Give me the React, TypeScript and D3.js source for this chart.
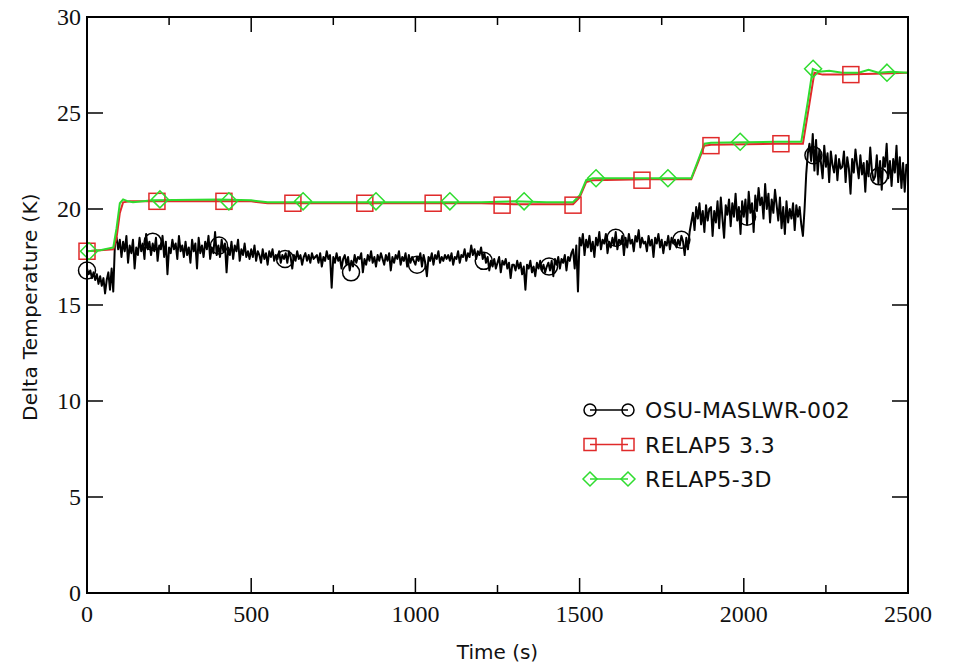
import React, { useRef, useEffect } from 'react';
import * as d3 from 'd3';

// experimental trace, one value every 5 s from 0 to 2500 s
const expStep = 5;
const expValues = [
  16.9,16.6,16.8,16.4,16.7,16.3,16.6,16.1,16.5,16.0,16.4,15.6,16.3,16.7,15.8,16.9,15.7,18.2,18.5,17.9,
  18.4,17.5,18.3,17.8,18.6,17.2,18.1,17.7,18.4,16.9,18.0,17.6,18.5,17.8,18.2,17.4,18.7,17.9,18.3,17.6,
  18.2,17.8,18.5,17.3,18.1,17.9,18.6,17.5,18.3,16.6,18.0,17.7,18.4,17.9,18.2,17.4,18.6,17.8,18.1,17.5,
  18.3,17.6,18.0,17.2,18.4,17.8,18.2,16.9,18.5,17.7,18.1,17.5,18.3,17.9,18.6,17.4,18.0,17.7,18.8,17.6,
  18.1,17.5,18.4,17.8,18.2,16.7,18.0,17.6,18.3,17.4,18.1,17.8,18.4,17.3,17.9,17.6,18.2,17.5,17.8,17.4,
  17.9,17.5,18.1,17.3,17.8,17.6,17.2,17.9,17.4,17.7,17.1,17.8,17.5,17.9,17.3,17.6,17.4,17.8,17.2,17.6,
  17.4,17.7,17.2,17.8,17.5,16.9,17.6,17.3,17.8,17.4,17.6,17.1,17.5,17.7,17.3,17.6,17.2,17.7,17.4,17.5,
  17.6,17.2,17.7,17.0,17.5,17.3,17.8,17.4,17.6,15.9,17.5,17.2,17.7,17.3,17.5,16.9,17.4,17.6,17.1,17.5,
  16.8,17.3,17.0,17.6,17.2,17.5,17.4,17.7,16.7,17.4,17.1,17.6,17.3,17.8,17.2,17.5,17.0,17.6,17.3,17.7,
  17.4,17.1,17.6,17.3,17.7,16.8,17.5,17.2,17.6,17.4,17.8,17.1,17.5,17.3,17.7,17.0,17.6,17.2,17.5,17.3,
  17.1,17.5,17.3,17.7,17.0,17.6,17.2,16.5,17.5,17.3,17.7,17.1,17.6,17.4,17.8,17.2,17.5,17.3,17.6,17.4,
  17.6,17.3,17.7,17.1,17.5,17.4,17.8,17.2,17.6,17.5,17.9,17.3,17.7,17.5,18.1,17.6,17.9,17.4,17.8,17.6,
  18.0,17.4,17.7,17.2,17.5,16.8,17.3,17.0,17.4,16.9,17.2,17.5,16.7,17.3,17.1,17.4,16.9,17.2,16.4,17.1,
  17.1,16.8,17.3,16.9,17.2,16.6,17.0,15.8,17.1,16.9,17.3,16.7,17.0,16.5,17.2,16.9,17.3,16.8,17.1,16.7,
  17.0,17.2,16.8,17.3,16.5,17.4,17.1,17.5,16.9,17.4,17.2,17.6,16.8,17.5,17.3,17.7,17.9,16.9,18.1,15.7,
  18.5,18.1,18.7,17.6,18.4,18.0,18.6,17.8,18.3,17.5,18.5,18.1,18.8,17.9,18.4,18.2,18.7,17.7,18.3,18.0,
  18.5,18.1,18.8,17.9,18.4,18.2,18.6,17.6,18.5,18.0,18.7,18.2,18.4,17.8,18.6,18.3,18.9,18.0,18.5,18.2,
  18.3,17.8,18.6,18.1,18.4,17.5,18.5,18.2,18.7,18.0,18.4,17.7,18.3,18.1,18.6,17.9,18.5,18.2,18.4,18.0,
  18.4,18.1,18.6,18.3,17.6,18.5,17.9,18.8,19.3,19.8,18.9,20.1,19.5,20.3,19.2,19.9,18.8,20.2,19.4,20.0,
  20.1,18.6,19.9,19.3,20.4,19.0,20.6,19.5,18.5,20.2,19.7,20.5,19.1,20.3,19.6,20.8,19.4,20.1,18.7,20.4,
  19.6,20.5,19.2,20.9,19.8,20.3,18.8,20.7,19.9,21.1,20.2,20.6,19.5,21.3,20.0,20.8,19.3,20.5,19.8,21.0,
  20.2,19.4,20.6,19.0,20.1,18.7,20.4,19.3,20.0,19.5,20.3,18.9,20.2,19.6,20.1,19.2,18.6,20.0,21.8,22.9,
  23.4,22.5,23.9,22.0,23.6,21.8,23.1,22.4,21.6,23.3,22.2,22.9,21.4,23.0,22.3,21.9,22.8,21.5,22.6,22.1,
  22.2,23.0,21.4,22.7,22.1,20.8,22.6,21.9,23.1,22.3,21.6,22.8,21.8,22.4,20.9,22.5,21.7,23.2,22.0,21.5,
  21.7,22.8,21.3,22.5,21.0,22.7,22.2,23.4,21.6,22.5,21.2,22.6,21.9,23.3,21.4,22.7,21.1,22.4,20.9,22.3,
  22.0
];

const relap33: [number, number][] = [
  [0,17.8],[40,17.85],[80,17.9],[90,18.5],[100,19.8],[110,20.35],[130,20.4],[200,20.4],[400,20.4],
  [500,20.4],[550,20.3],[600,20.3],[1000,20.3],[1200,20.3],[1300,20.25],[1480,20.25],[1500,20.6],
  [1520,21.4],[1540,21.5],[1700,21.55],[1840,21.55],[1860,22.4],[1880,23.3],[1900,23.35],[2100,23.4],
  [2180,23.4],[2200,25.5],[2215,27.1],[2240,27.0],[2300,27.0],[2400,27.05],[2500,27.1]
];

const relap3d: [number, number][] = [
  [0,17.8],[40,17.85],[80,18.0],[90,19.0],[100,20.3],[110,20.5],[125,20.4],[140,20.35],[200,20.45],
  [400,20.5],[500,20.45],[550,20.35],[600,20.35],[1000,20.35],[1200,20.35],[1300,20.4],[1400,20.35],
  [1480,20.35],[1500,20.7],[1520,21.5],[1540,21.6],[1700,21.6],[1840,21.6],[1860,22.5],[1880,23.4],
  [1900,23.45],[2100,23.5],[2175,23.5],[2195,25.6],[2210,27.3],[2230,27.15],[2260,27.2],[2300,27.1],
  [2350,27.1],[2380,27.25],[2410,27.1],[2450,27.15],[2500,27.1]
];

const expMarks: [number, number][] = [
  [0,16.8],[200,18.3],[402,18.1],[603,17.4],[804,16.7],[1005,17.1],[1208,17.3],[1407,17.0],
  [1610,18.5],[1810,18.4],[2010,19.6],[2212,22.8],[2412,21.7]
];
const relap33Marks: [number, number][] = [
  [0,17.8],[213,20.4],[417,20.4],[627,20.3],[846,20.3],[1054,20.3],[1264,20.2],[1480,20.2],
  [1690,21.5],[1900,23.3],[2113,23.4],[2326,27.0]
];
const relap3dMarks: [number, number][] = [
  [6,17.8],[222,20.5],[432,20.4],[658,20.4],[880,20.4],[1105,20.4],[1331,20.4],[1550,21.6],
  [1769,21.6],[1989,23.5],[2211,27.3],[2436,27.1]
];

const legendNames = ['OSU-MASLWR-002', 'RELAP5 3.3', 'RELAP5-3D'];
const xTicks = [0, 500, 1000, 1500, 2000, 2500];
const yTicks = [0, 5, 10, 15, 20, 25, 30];

const RED = '#e02a2a';
const GREEN = '#2fdc2f';

const drawMarker = (g: any, kind: string, x: number, y: number, s: number, color: string) => {
  if (kind === 'circle') {
    g.append('circle').attr('cx', x).attr('cy', y).attr('r', s / 2)
      .attr('fill', 'none').attr('stroke', color).attr('stroke-width', 1.5);
  } else if (kind === 'square') {
    g.append('rect').attr('x', x - s / 2).attr('y', y - s / 2).attr('width', s).attr('height', s)
      .attr('fill', 'none').attr('stroke', color).attr('stroke-width', 1.5);
  } else {
    const h = s / 2 + 1;
    g.append('path').attr('d', `M${x},${y - h}L${x + h},${y}L${x},${y + h}L${x - h},${y}Z`)
      .attr('fill', 'none').attr('stroke', color).attr('stroke-width', 1.5);
  }
};

const Chart = () => {
  const canvas = useRef<HTMLDivElement>(null);

  useEffect(() => {
    const width = 959;
    const height = 665;
    const left = 87, right = 908, top = 17, bottom = 593;

    d3.select(canvas.current).selectAll('*').remove();
    const svg = d3.select(canvas.current).append('svg')
      .attr('width', width).attr('height', height)
      .style('position', 'absolute').style('left', 0).style('top', 0)
      .style('background', '#fff');

    const x = d3.scaleLinear().domain([0, 2500]).range([left, right]);
    const y = d3.scaleLinear().domain([0, 30]).range([bottom, top]);

    const expData: [number, number][] = expValues.map((v, i) => [i * expStep, v]);
    const line = d3.line<[number, number]>().x(d => x(d[0])).y(d => y(d[1]));

    const plot = svg.append('g');
    plot.append('path').attr('d', line(expData)).attr('fill', 'none')
      .attr('stroke', '#000').attr('stroke-width', 2).attr('stroke-linejoin', 'round');
    plot.append('path').attr('d', line(relap33)).attr('fill', 'none')
      .attr('stroke', RED).attr('stroke-width', 2);
    plot.append('path').attr('d', line(relap3d)).attr('fill', 'none')
      .attr('stroke', GREEN).attr('stroke-width', 2);

    expMarks.forEach(d => drawMarker(plot, 'circle', x(d[0]), y(d[1]), 17, '#000'));
    relap33Marks.forEach(d => drawMarker(plot, 'square', x(d[0]), y(d[1]), 16, RED));
    relap3dMarks.forEach(d => drawMarker(plot, 'diamond', x(d[0]), y(d[1]), 15, GREEN));

    // frame and inward ticks
    const frame = svg.append('g');
    frame.append('rect').attr('x', left).attr('y', top).attr('width', right - left).attr('height', bottom - top)
      .attr('fill', 'none').attr('stroke', '#000').attr('stroke-width', 2);

    d3.range(0, 2501, 250).forEach(t => {
      const len = t % 500 === 0 ? 15 : 8;
      frame.append('line').attr('x1', x(t)).attr('x2', x(t)).attr('y1', bottom).attr('y2', bottom - len)
        .attr('stroke', '#000').attr('stroke-width', 1.5);
      frame.append('line').attr('x1', x(t)).attr('x2', x(t)).attr('y1', top).attr('y2', top + len)
        .attr('stroke', '#000').attr('stroke-width', 1.5);
    });
    yTicks.forEach(v => {
      frame.append('line').attr('x1', left).attr('x2', left + 16).attr('y1', y(v)).attr('y2', y(v))
        .attr('stroke', '#000').attr('stroke-width', 1.5);
      frame.append('line').attr('x1', right).attr('x2', right - 16).attr('y1', y(v)).attr('y2', y(v))
        .attr('stroke', '#000').attr('stroke-width', 1.5);
    });

    const serif = "'Liberation Serif', 'Times New Roman', Times, serif";
    const sans = "'DejaVu Sans', sans-serif";

    xTicks.forEach(t => {
      svg.append('text').attr('x', x(t)).attr('y', 622).attr('text-anchor', 'middle')
        .style('font-family', serif).style('font-size', '24px').attr('fill', '#111').text(t);
    });
    yTicks.forEach(v => {
      svg.append('text').attr('x', 81).attr('y', y(v) + 8).attr('text-anchor', 'end')
        .style('font-family', serif).style('font-size', '24px').attr('fill', '#111').text(v);
    });

    svg.append('text').attr('x', (left + right) / 2).attr('y', 659).attr('text-anchor', 'middle')
      .style('font-family', sans).style('font-size', '20px').attr('fill', '#111').text('Time (s)');
    svg.append('text').attr('transform', `translate(37,${(top + bottom) / 2 + 2}) rotate(-90)`)
      .attr('text-anchor', 'middle').style('font-family', sans).style('font-size', '20px')
      .style('letter-spacing', '0.3px').attr('fill', '#111').text('Delta Temperature (K)');

    // legend
    const kinds = ['circle', 'square', 'diamond'];
    const colors = ['#000', RED, GREEN];
    legendNames.forEach((name, i) => {
      const ly = 410 + i * 34.5;
      const lg = svg.append('g');
      lg.append('line').attr('x1', 590).attr('x2', 628).attr('y1', ly).attr('y2', ly)
        .attr('stroke', colors[i]).attr('stroke-width', 1.5);
      drawMarker(lg, kinds[i], 590, ly, 12, colors[i]);
      drawMarker(lg, kinds[i], 628, ly, 12, colors[i]);
      lg.append('text').attr('x', 645).attr('y', ly + 8).style('font-family', sans)
        .style('font-size', '22px').style('letter-spacing', '0.4px').attr('fill', '#111').text(name);
    });
  }, []);

  return <div ref={canvas}></div>;
};

export default function App() {
  return <Chart />;
}
